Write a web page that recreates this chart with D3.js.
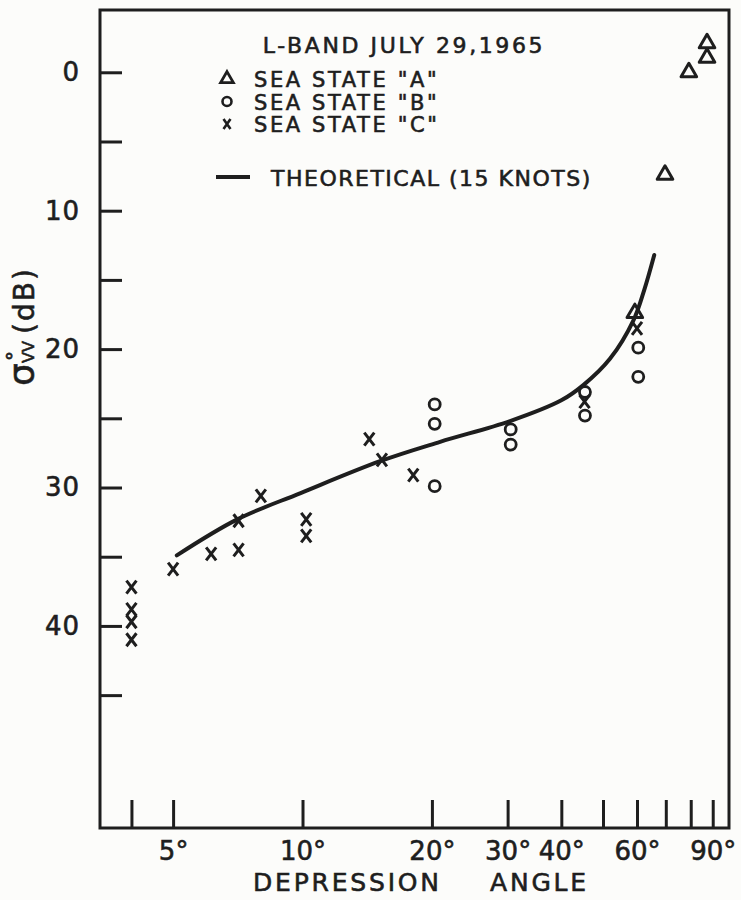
<!DOCTYPE html>
<html>
<head>
<meta charset="utf-8">
<script src="https://cdn.jsdelivr.net/npm/d3@7"></script>
<style>
  body { margin: 0; background: #fcfcfa; }
  svg text { font-family: "DejaVu Sans", sans-serif; fill: #1e1e1e; stroke: #1e1e1e; stroke-width: 0.6px; }
</style>
</head>
<body>
<script>
// axis ticks
const xTickValues = [4, 5, 10, 20, 30, 40, 50, 60, 70, 80, 90];
const xLabelValues = [5, 10, 20, 30, 40, 60, 90];
const yTickValues = [0, 5, 10, 15, 20, 25, 30, 35, 40, 45];
const yLabelValues = [0, 10, 20, 30, 40];

// sea state "A" (triangles)
const seaAAngle = [87.3, 87.3, 79.2, 69.7, 59.3];
const seaADb = [-2.1, -1.05, 0, 7.4, 17.4];

// sea state "B" (circles)
const seaBAngle = [20.3, 20.3, 20.3, 30.5, 30.5, 45.4, 45.4, 60.4, 60.4];
const seaBDb = [24.0, 25.4, 29.9, 25.8, 26.9, 23.1, 24.8, 19.9, 22.0];

// sea state "C" (crosses)
const seaCAngle = [4.0, 4.0, 4.0, 4.0, 5.0, 6.13, 7.1, 7.1, 8.0, 10.2, 10.2, 14.3, 15.3, 18.1, 45.3, 60.0];
const seaCDb = [37.2, 38.8, 39.7, 41.0, 35.9, 34.8, 34.5, 32.4, 30.6, 32.3, 33.5, 26.5, 28.0, 29.1, 23.8, 18.5];

// theoretical curve (15 knots)
const theoryAngle = [5.1, 7.05, 9.9, 15.15, 20.9, 30.4, 40.0, 45.0, 51.9, 58.9, 62.4, 65.8];
const theoryDb = [34.9, 32.3, 30.4, 28.1, 26.7, 25.2, 23.7, 22.6, 20.7, 17.9, 15.7, 13.2];

const WIDTH = 741;
const HEIGHT = 900;
const INK = "#1e1e1e";

const svg = d3.select("body")
  .append("svg")
  .attr("width", WIDTH)
  .attr("height", HEIGHT);

const xScale = d3.scaleLog()
  .domain([3.38, 98.2])
  .range([100, 729]);

const yScale = d3.scaleLinear()
  .domain([-4.5, 54.6])
  .range([10, 828]);

const [plotLeft, plotRight] = xScale.range();
const [plotTop, plotBottom] = yScale.range();

// frame
svg.append("rect")
  .attr("x", plotLeft)
  .attr("y", plotTop)
  .attr("width", plotRight - plotLeft)
  .attr("height", plotBottom - plotTop)
  .attr("fill", "none")
  .attr("stroke", INK)
  .attr("stroke-width", 3);

// y axis, ticks pointing inward
const yAxis = d3.axisLeft(yScale)
  .tickValues(yTickValues)
  .tickSize(-22)
  .tickPadding(20)
  .tickFormat(d => yLabelValues.includes(d) ? d : "");

svg.append("g")
  .attr("transform", "translate(" + plotLeft + ",0)")
  .call(yAxis)
  .call(g => g.select(".domain").remove())
  .call(g => g.selectAll("line").attr("stroke", INK).attr("stroke-width", 3))
  .call(g => g.selectAll("text")
    .style("font-size", "26px")
    .style("letter-spacing", "1px")
    .attr("fill", INK));

// x axis, ticks pointing up
const xAxis = d3.axisBottom(xScale)
  .tickValues(xTickValues)
  .tickSize(-28)
  .tickPadding(14)
  .tickFormat(d => xLabelValues.includes(d) ? d + "°" : "");

svg.append("g")
  .attr("transform", "translate(0," + plotBottom + ")")
  .call(xAxis)
  .call(g => g.select(".domain").remove())
  .call(g => g.selectAll("line").attr("stroke", INK).attr("stroke-width", 3))
  .call(g => g.selectAll("text")
    .style("font-size", "26px")
    .attr("fill", INK));

// x title
svg.append("text")
  .attr("x", 253)
  .attr("y", 891)
  .style("font-size", "25px")
  .style("letter-spacing", "2.8px")
  .text("DEPRESSION");
svg.append("text")
  .attr("x", 490)
  .attr("y", 891)
  .style("font-size", "25px")
  .style("letter-spacing", "2.8px")
  .text("ANGLE");

// y title: sigma with VV subscript and degree above
const yTitle = svg.append("g")
  .attr("transform", "translate(34,386) rotate(-90)");
yTitle.append("text").attr("x", 0).attr("y", 0)
  .style("font-size", "36px").text("σ");
yTitle.append("text").attr("x", 23).attr("y", 0)
  .style("font-size", "16px").text("VV");
yTitle.append("text").attr("x", 25).attr("y", -13)
  .style("font-size", "20px").text("°");
yTitle.append("text").attr("x", 52).attr("y", 0)
  .style("font-size", "28px")
  .style("letter-spacing", "2px")
  .text("(dB)");

// theoretical curve
const line = d3.line()
  .x(d => xScale(d[0]))
  .y(d => yScale(d[1]))
  .curve(d3.curveCatmullRom.alpha(0.5));

svg.append("path")
  .datum(d3.zip(theoryAngle, theoryDb))
  .attr("d", line)
  .attr("fill", "none")
  .attr("stroke", INK)
  .attr("stroke-width", 4)
  .attr("stroke-linecap", "round");

// markers
const triangle = d3.symbol(d3.symbolTriangle, 105);
const crossPath = "M-5,-6.5L5,6.5M5,-6.5L-5,6.5";

function drawTriangles(g, data) {
  g.selectAll("path.tri")
    .data(data)
    .enter()
    .append("path")
    .attr("class", "tri")
    .attr("d", triangle)
    .attr("transform", d => "translate(" + xScale(d[0]) + "," + yScale(d[1]) + ")")
    .attr("fill", "none")
    .attr("stroke", INK)
    .attr("stroke-width", 3)
    .attr("stroke-linejoin", "round");
}

function drawCircles(g, data) {
  g.selectAll("circle")
    .data(data)
    .enter()
    .append("circle")
    .attr("cx", d => xScale(d[0]))
    .attr("cy", d => yScale(d[1]))
    .attr("r", 5.5)
    .attr("fill", "none")
    .attr("stroke", INK)
    .attr("stroke-width", 2.8);
}

function drawCrosses(g, data) {
  g.selectAll("path.cross")
    .data(data)
    .enter()
    .append("path")
    .attr("class", "cross")
    .attr("d", crossPath)
    .attr("transform", d => "translate(" + xScale(d[0]) + "," + yScale(d[1]) + ")")
    .attr("fill", "none")
    .attr("stroke", INK)
    .attr("stroke-width", 3);
}

const marks = svg.append("g");
drawTriangles(marks, d3.zip(seaAAngle, seaADb));
drawCircles(marks, d3.zip(seaBAngle, seaBDb));
drawCrosses(marks, d3.zip(seaCAngle, seaCDb));

// legend
const legendTitle = "L-BAND JULY 29,1965";
const legendLabels = ['SEA STATE "A"', 'SEA STATE "B"', 'SEA STATE "C"'];
const theoryLabel = "THEORETICAL (15 KNOTS)";

const legend = svg.append("g");
legend.append("text")
  .attr("x", 404)
  .attr("y", 53)
  .attr("text-anchor", "middle")
  .style("font-size", "22px")
  .style("letter-spacing", "2.6px")
  .text(legendTitle);

const rows = legend.selectAll("g.row")
  .data(legendLabels)
  .enter()
  .append("g")
  .attr("class", "row")
  .attr("transform", (d, i) => "translate(227," + (79 + i * 22.5) + ")");

rows.append("text")
  .attr("x", 27)
  .attr("y", 8)
  .style("font-size", "21px")
  .style("letter-spacing", "2.6px")
  .text(d => d);

rows.filter((d, i) => i === 0).append("path")
  .attr("d", d3.symbol(d3.symbolTriangle, 70))
  .attr("fill", "none")
  .attr("stroke", INK)
  .attr("stroke-width", 2.8);
rows.filter((d, i) => i === 1).append("circle")
  .attr("r", 4.5)
  .attr("fill", "none")
  .attr("stroke", INK)
  .attr("stroke-width", 2.6);
rows.filter((d, i) => i === 2).append("path")
  .attr("d", "M-3.5,-5L3.5,5M3.5,-5L-3.5,5")
  .attr("fill", "none")
  .attr("stroke", INK)
  .attr("stroke-width", 2.6);

legend.append("line")
  .attr("x1", 216)
  .attr("x2", 250)
  .attr("y1", 177)
  .attr("y2", 177)
  .attr("stroke", INK)
  .attr("stroke-width", 4);
legend.append("text")
  .attr("x", 271)
  .attr("y", 186)
  .style("font-size", "22px")
  .style("letter-spacing", "1.5px")
  .text(theoryLabel);
</script>
</body>
</html>
